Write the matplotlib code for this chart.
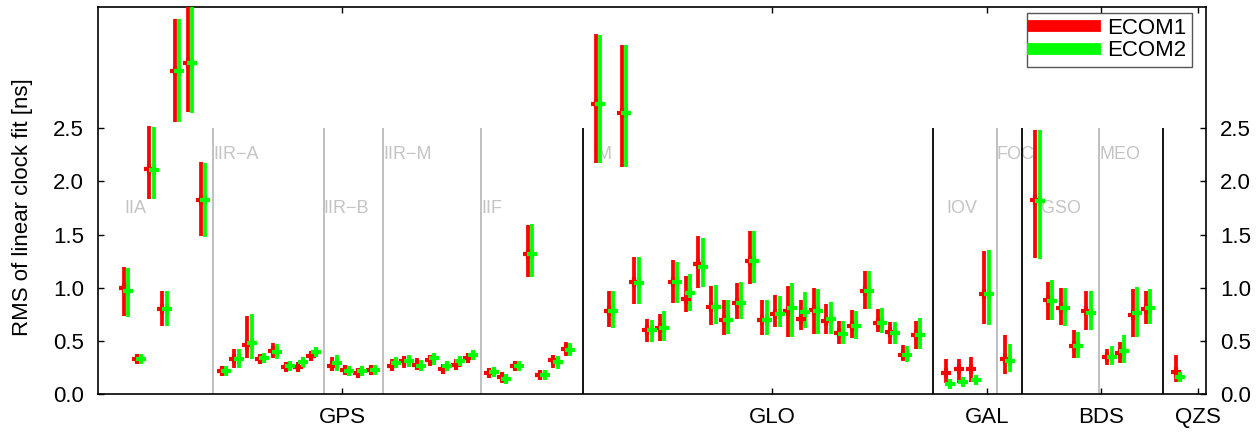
import numpy as np
import matplotlib
matplotlib.use("Agg")
import matplotlib.pyplot as plt
from matplotlib.lines import Line2D

plt.rcParams['font.family'] = ['Liberation Sans', 'DejaVu Sans']

# satellite blocks, in plotting order
block_system = ["GPS", "GPS", "GPS", "GPS", "GPS", "GLO", "GAL", "GAL", "BDS", "BDS", "QZS"]
block_name = ["IIA", "IIR\u2212A", "IIR\u2212B", "IIR\u2212M", "IIF", "M", "IOV", "FOC", "IGSO", "MEO", ""]
block_size = [7, 8, 4, 7, 7, 26, 4, 1, 5, 4, 1]

system_labels = ["GPS", "GLO", "GAL", "BDS", "QZS"]
system_tick_pos = [16.9, 50.5, 67.3, 76.2, 83.8]

# RMS of linear clock fit [ns]: median with lower / upper spread, per satellite
ecom1_rms = [
    1.00, 0.335, 2.12, 0.80, 3.04, 3.11, 1.83,
    0.22, 0.33, 0.46, 0.33, 0.41, 0.26, 0.26, 0.36,
    0.27, 0.23, 0.20, 0.23,
    0.27, 0.31, 0.28, 0.32, 0.24, 0.28, 0.34,
    0.20, 0.16, 0.27, 1.32, 0.18, 0.32, 0.43,
    2.73, 0.78, 2.64, 1.06, 0.60, 0.62, 1.06, 0.90, 1.22, 0.82, 0.70, 0.86, 1.25,
    0.70, 0.755, 0.78, 0.71, 0.79, 0.69, 0.58, 0.64, 0.97, 0.67, 0.59, 0.37, 0.56,
    0.20, 0.235, 0.235, 0.94,
    0.33,
    1.83, 0.89, 0.81, 0.45, 0.78,
    0.35, 0.385, 0.745, 0.80,
    0.21,
]
ecom1_low = [
    0.74, 0.30, 1.84, 0.64, 2.56, 2.65, 1.49,
    0.20, 0.25, 0.34, 0.29, 0.34, 0.24, 0.23, 0.32,
    0.23, 0.20, 0.18, 0.19,
    0.23, 0.25, 0.23, 0.27, 0.22, 0.24, 0.30,
    0.18, 0.11, 0.22, 1.10, 0.16, 0.25, 0.36,
    2.17, 0.63, 2.14, 0.85, 0.49, 0.50, 0.86, 0.77, 1.00, 0.65, 0.56, 0.71, 1.04,
    0.56, 0.63, 0.54, 0.60, 0.57, 0.57, 0.47, 0.53, 0.80, 0.59, 0.47, 0.31, 0.43,
    0.11, 0.11, 0.12, 0.66,
    0.19,
    1.28, 0.70, 0.65, 0.34, 0.60,
    0.28, 0.29, 0.54, 0.66,
    0.12,
]
ecom1_high = [
    1.20, 0.37, 2.52, 0.97, 3.53, 3.70, 2.18,
    0.25, 0.43, 0.74, 0.38, 0.48, 0.28, 0.30, 0.39,
    0.35, 0.26, 0.22, 0.26,
    0.33, 0.36, 0.34, 0.37, 0.27, 0.33, 0.37,
    0.22, 0.20, 0.31, 1.59, 0.20, 0.37, 0.49,
    3.39, 0.97, 3.28, 1.29, 0.71, 0.75, 1.26, 1.11, 1.49, 1.02, 0.89, 1.05, 1.53,
    0.89, 0.93, 1.02, 0.89, 1.00, 0.85, 0.69, 0.79, 1.16, 0.80, 0.68, 0.46, 0.69,
    0.33, 0.33, 0.35, 1.35,
    0.56,
    2.48, 1.06, 1.00, 0.60, 0.97,
    0.43, 0.49, 0.99, 0.97,
    0.37,
]
ecom2_rms = [
    0.97, 0.33, 2.11, 0.80, 3.04, 3.11, 1.83,
    0.22, 0.33, 0.48, 0.34, 0.40, 0.27, 0.30, 0.40,
    0.29, 0.22, 0.22, 0.23,
    0.29, 0.31, 0.27, 0.34, 0.27, 0.31, 0.37,
    0.21, 0.14, 0.27, 1.32, 0.18, 0.30, 0.42,
    2.73, 0.78, 2.64, 1.05, 0.60, 0.62, 1.06, 0.95, 1.20, 0.82, 0.70, 0.86, 1.25,
    0.70, 0.75, 0.81, 0.77, 0.78, 0.71, 0.57, 0.64, 0.97, 0.67, 0.58, 0.37, 0.56,
    0.10, 0.12, 0.13, 0.94,
    0.31,
    1.82, 0.88, 0.81, 0.45, 0.76,
    0.35, 0.41, 0.76, 0.81,
    0.16,
]
ecom2_low = [
    0.73, 0.29, 1.84, 0.64, 2.56, 2.64, 1.48,
    0.20, 0.25, 0.33, 0.30, 0.33, 0.25, 0.25, 0.37,
    0.22, 0.20, 0.20, 0.19,
    0.25, 0.26, 0.23, 0.28, 0.24, 0.26, 0.34,
    0.19, 0.10, 0.22, 1.10, 0.17, 0.24, 0.36,
    2.17, 0.62, 2.14, 0.85, 0.49, 0.50, 0.86, 0.78, 1.01, 0.66, 0.57, 0.71, 1.05,
    0.56, 0.63, 0.54, 0.62, 0.57, 0.57, 0.47, 0.52, 0.80, 0.58, 0.47, 0.30, 0.43,
    0.08, 0.09, 0.10, 0.65,
    0.21,
    1.27, 0.70, 0.64, 0.34, 0.60,
    0.28, 0.29, 0.54, 0.66,
    0.14,
]
ecom2_high = [
    1.19, 0.37, 2.51, 0.97, 3.53, 3.70, 2.17,
    0.24, 0.43, 0.75, 0.38, 0.47, 0.28, 0.34, 0.44,
    0.37, 0.24, 0.24, 0.26,
    0.35, 0.37, 0.32, 0.385, 0.29, 0.35, 0.40,
    0.22, 0.19, 0.31, 1.60, 0.19, 0.36, 0.48,
    3.38, 0.97, 3.28, 1.29, 0.70, 0.78, 1.24, 1.13, 1.47, 1.03, 0.89, 1.06, 1.53,
    0.89, 0.92, 1.05, 0.96, 0.99, 0.87, 0.69, 0.78, 1.16, 0.81, 0.68, 0.45, 0.72,
    0.13, 0.14, 0.15, 1.36,
    0.47,
    2.48, 1.07, 1.00, 0.59, 0.97,
    0.45, 0.56, 1.01, 0.99,
    0.18,
]

# ---- layout --------------------------------------------------------------
SUB_GAP = 1.64      # spacing across a block boundary
SYS_GAP = 2.34      # spacing across a constellation boundary
PAIR_OFF = 0.17     # half distance between the two solutions of one satellite

x_sat = []
block_first, separators = [], []
pos = 0.0
for i, (sysname, n) in enumerate(zip(block_system, block_size)):
    if i > 0:
        gap = SYS_GAP if sysname != block_system[i - 1] else SUB_GAP
        pos = x_sat[-1] + gap
        separators.append((x_sat[-1] + gap / 2.0,
                           "black" if sysname != block_system[i - 1] else "#c0c0c0"))
    block_first.append(pos)
    for k in range(n):
        x_sat.append(pos + k)
x_sat = np.array(x_sat)

fig = plt.figure(figsize=(12.58, 4.32), dpi=100)
ax = fig.add_axes([98 / 1258, 37.7 / 432, 1108 / 1258, 387 / 432])

# block separators
for xs, col in separators:
    ax.vlines(xs, 0, 2.5, color=col, lw=1.4 if col != "black" else 1.3, zorder=2)

# block names, alternating low / high
for i, name in enumerate(block_name):
    if not name:
        continue
    new_system = (i == 0) or (block_system[i] != block_system[i - 1])
    xt = block_first[i] - 0.1 if new_system else separators[i - 1][0]
    yt = 1.75 if i % 2 == 0 else 2.25
    ax.text(xt, yt, name, color="#c4c4c4", fontsize=13, ha="left", va="center",
            zorder=1)

def draw(x, v, lo, hi, color):
    v = np.asarray(v); lo = np.asarray(lo); hi = np.asarray(hi)
    ax.errorbar(x, v, yerr=[v - lo, hi - v], fmt="+", color=color,
                ecolor=color, elinewidth=2.7, capsize=0, ms=7.5, mew=3.0,
                zorder=3)

draw(x_sat - PAIR_OFF, ecom1_rms, ecom1_low, ecom1_high, "#ff0000")
draw(x_sat + PAIR_OFF, ecom2_rms, ecom2_low, ecom2_high, "#00ff00")

ax.set_xlim(-2.19, 84.4)
ax.set_ylim(0, 3.637)

ax.set_yticks([0.0, 0.5, 1.0, 1.5, 2.0, 2.5])
ax.set_yticklabels(["0.0", "0.5", "1.0", "1.5", "2.0", "2.5"])
ax.set_xticks(system_tick_pos)
ax.set_xticklabels(system_labels)

ax.tick_params(axis="y", direction="in", length=4, width=1, labelsize=16,
               pad=10, left=True, right=True, labelleft=True, labelright=True)
ax.tick_params(axis="x", direction="in", length=4, width=1, labelsize=16,
               pad=9.5, top=True, bottom=True)
for sp in ax.spines.values():
    sp.set_linewidth(1.2)

ax.set_ylabel("RMS of linear clock fit [ns]", fontsize=16)
ax.yaxis.set_label_coords(-0.059, 0.484)

handles = [Line2D([], [], color="#ff0000", lw=8.5),
           Line2D([], [], color="#00ff00", lw=8.5)]
leg = ax.legend(handles, ["ECOM1", "ECOM2"], loc="upper right",
                bbox_to_anchor=(0.9874, 0.986), borderaxespad=0,
                fontsize=16, handlelength=2.8, handletextpad=0.55,
                labelspacing=0.05, borderpad=0.25, fancybox=False,
                framealpha=1, edgecolor="#555555")
leg.get_frame().set_linewidth(1.0)

fig.savefig("out.png", dpi=100)
